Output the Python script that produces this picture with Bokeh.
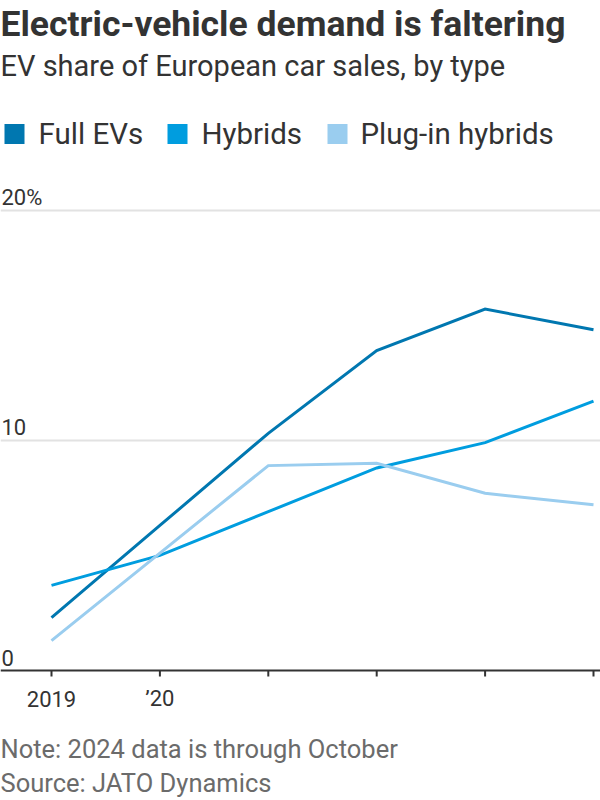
from bokeh.plotting import figure
from bokeh.models import Range1d, FixedTicker, Span
from bokeh.core.properties import value
from bokeh.embed import file_html
from bokeh.resources import INLINE

# ---- data ----
years = [2019, 2020, 2021, 2022, 2023, 2024]
full_evs = [2.3, 6.3, 10.3, 13.9, 15.7, 14.8]
hybrids = [3.7, 5.0, 6.9, 8.8, 9.9, 11.7]
plugin_hybrids = [1.3, 5.1, 8.9, 9.0, 7.7, 7.2]
series_names = ["Full EVs", "Hybrids", "Plug-in hybrids"]
series_colors = ["#0077b0", "#009ddf", "#9acdef"]
y_ticks = [0, 10, 20]
y_tick_labels = ["0", "10", "20%"]
x_tick_labels = ["2019", "\u201920", "", "", "", ""]

title_text = "Electric-vehicle demand is faltering"
subtitle_text = "EV share of European car sales, by type"
note_text = "Note: 2024 data is through October"
source_text = "Source: JATO Dynamics"

# ---- layout constants (pixels on the 600x800 canvas) ----
W, H = 600, 800
ZERO_Y = 670.0        # pixel row of the 0 line
PX_PER_UNIT = 23.02   # vertical pixels per percentage point
FIRST_X = 51.0        # pixel column of first year
PX_PER_YEAR = 108.4
FONT = "Roboto"
DARK = "#333333"
GREY = "#6b6b6b"

x0 = years[0] - FIRST_X / PX_PER_YEAR
y0 = -(H - ZERO_Y) / PX_PER_UNIT


def X(px):
    return x0 + px / PX_PER_YEAR


def Y(py):
    return (ZERO_Y - py) / PX_PER_UNIT


p = figure(width=W, height=H, output_backend="svg", toolbar_location=None,
           x_range=Range1d(x0, X(W)), y_range=Range1d(y0, Y(0)),
           x_axis_location=None, y_axis_location=None,
           min_border=0, min_border_left=0, min_border_right=0,
           min_border_top=0, min_border_bottom=0)
p.title.visible = False
p.outline_line_color = None
p.background_fill_color = "white"
p.border_fill_color = "white"

# gridlines
p.xgrid.visible = False
p.ygrid.ticker = FixedTicker(ticks=[t for t in y_ticks if t > 0])
p.ygrid.grid_line_color = "#e2e2e2"
p.ygrid.grid_line_width = 2

# y tick labels, sitting above their gridlines at the left edge
p.text(x=[x0] * len(y_ticks), y=y_ticks, text=y_tick_labels,
       text_font=value(FONT), text_font_size="22px", text_color=DARK,
       text_align="left", text_baseline="alphabetic", x_offset=1, y_offset=-13)

# series lines
for vals, col in zip([full_evs, hybrids, plugin_hybrids], series_colors):
    p.line(years, vals, line_color=col, line_width=3, line_join="miter")

# x axis: baseline, ticks and labels
p.add_layout(Span(location=0, dimension="width", line_color=DARK, line_width=2))
p.segment(x0=years, y0=[0] * len(years), x1=years, y1=[-6 / PX_PER_UNIT] * len(years),
          line_color=DARK, line_width=2)
p.text(x=years, y=[0] * len(years), text=x_tick_labels,
       text_font=value(FONT), text_font_size="22px", text_color=DARK,
       text_align="center", text_baseline="alphabetic", y_offset=28)

# legend (squares + labels)
legend_sq_x = [X(14), X(177), X(337)]
legend_tx_x = [X(38), X(201), X(360)]
p.scatter(x=legend_sq_x, y=[Y(133.5)] * 3, marker="square", size=20,
          fill_color=series_colors, line_color=None)
p.text(x=legend_tx_x, y=[Y(133.5)] * 3, text=series_names,
       text_font=value(FONT), text_font_size="29.5px", text_color=DARK,
       text_align="left", text_baseline="alphabetic")

# title, subtitle and footnotes
p.text(x=[X(0)], y=[Y(23.5)], text=[title_text], text_font=value(FONT),
       text_font_size="35.5px", text_font_style="bold", text_color=DARK,
       text_align="left", text_baseline="alphabetic")
p.text(x=[X(0)], y=[Y(65.5)], text=[subtitle_text], text_font=value(FONT),
       text_font_size="29px", text_color=DARK,
       text_align="left", text_baseline="alphabetic")
p.text(x=[X(0), X(0)], y=[Y(748), Y(782)], text=[note_text, source_text],
       text_font=value(FONT), text_font_size="25.5px", text_color=GREY,
       text_align="left", text_baseline="alphabetic")

open("out.html", "w").write(file_html(p, INLINE))
